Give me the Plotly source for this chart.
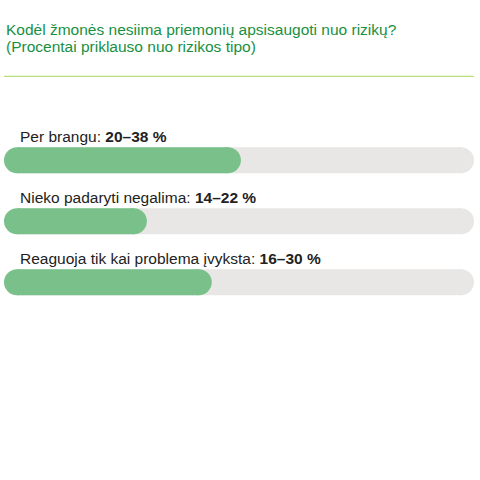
import plotly.graph_objects as go

# reasons and reported ranges (percent)
reasons = ['Per brangu', 'Nieko padaryti negalima', 'Reaguoja tik kai problema įvyksta']
range_low = [20, 14, 16]
range_high = [38, 22, 30]
# filled share of each track (0-100)
fill_share = [50.4, 30.4, 44.2]
track_max = 100

title_lines = ['Kodėl žmonės nesiima priemonių apsisaugoti nuo rizikų?',
               '(Procentai priklauso nuo rizikos tipo)']

GREEN = '#79c08a'
TRACK = '#e8e7e6'
TITLE_GREEN = '#18903f'
RULE_GREEN = '#a5da5a'
FONT = 'Liberation Sans, Arial, sans-serif'

ypos = list(range(len(reasons)))
BAR_W = 0.426      # bar thickness in y units (26 px)
CAP_PX = 26        # diameter of the round end caps
PLOT_W_PX = 470
cap_r = CAP_PX / 2 / PLOT_W_PX * track_max   # cap radius in x units


def pill(ends, color, left_cap=True):
    # straight body between the cap centres, plus round caps
    body = go.Bar(x=[e - 2 * cap_r for e in ends], base=[cap_r] * len(ends), y=ypos,
                  orientation='h', width=BAR_W,
                  marker=dict(color=color, line=dict(width=0)), hoverinfo='skip')
    cx = [e - cap_r for e in ends]
    cy = list(ypos)
    if left_cap:
        cx = [cap_r] * len(ends) + cx
        cy = ypos + cy
    caps = go.Scatter(x=cx, y=cy, mode='markers', hoverinfo='skip',
                      marker=dict(size=CAP_PX, color=color, line=dict(width=0)))
    return [body, caps]


fig = go.Figure()
# scatter caps sit above all bars, so the grey left cap (always under the green one) is skipped
for t in pill([track_max] * len(reasons), TRACK, left_cap=False) + pill(fill_share, GREEN):
    fig.add_trace(t)

annotations = []
for i, name in enumerate(reasons):
    annotations.append(dict(
        x=0, y=i, xref='x', yref='y', xanchor='left', yanchor='middle',
        xshift=14, yshift=24, showarrow=False,
        text=f'{name}: <b>{range_low[i]}–{range_high[i]} %</b>',
        font=dict(family=FONT, size=15.5, color='#222222')))

for k, line in enumerate(title_lines):
    annotations.append(dict(
        x=0, y=-1.377, xref='x', yref='y', xanchor='left', yanchor='middle',
        xshift=0, yshift=47 - 17 * k, showarrow=False,
        text=line, font=dict(family=FONT, size=15.5, color=TITLE_GREEN)))

fig.update_layout(
    width=480, height=480,
    margin=dict(l=4, r=6, t=0, b=0),
    paper_bgcolor='white', plot_bgcolor='white',
    barmode='overlay',
    showlegend=False,
    xaxis=dict(range=[0, track_max], visible=False, fixedrange=True),
    yaxis=dict(range=[5.241, -2.628], visible=False, fixedrange=True),
    annotations=annotations,
    shapes=[dict(type='line', xref='x', yref='y', x0=0, x1=track_max,
                 y0=-1.377, y1=-1.377, line=dict(color=RULE_GREEN, width=1))],
)

fig.write_html('out.html', config={'displayModeBar': False},
               post_script="document.body.style.margin='0';")
